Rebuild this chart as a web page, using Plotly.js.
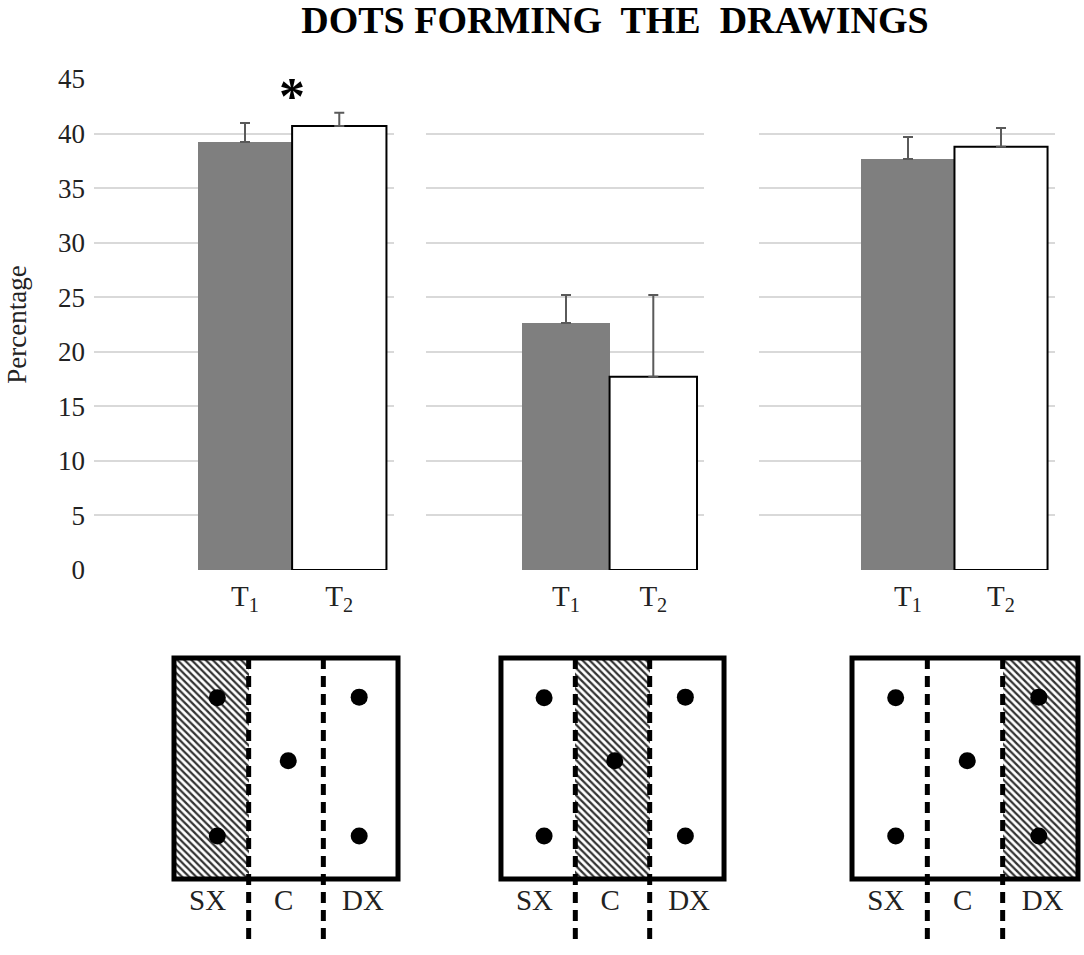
<!DOCTYPE html>
<html>
<head>
<meta charset="utf-8">
<script src="https://cdn.plot.ly/plotly-3.0.1.min.js"></script>
<style>
  html, body { margin: 0; padding: 0; background: #fff; }
  #chart { width: 1084px; height: 955px; }
</style>
</head>
<body>
<div id="chart"></div>
<script>
// Bar data: one panel per target zone, T1 vs T2
const timeLabels = ["T<sub>1</sub>", "T<sub>2</sub>"];
const t1Mean = [39.2, 22.6, 37.7];
const t1Err = [1.8, 2.6, 2.0];
const t2Mean = [40.7, 17.7, 38.8];
const t2Err = [1.2, 7.5, 1.7];
const yTicks = [0, 5, 10, 15, 20, 25, 30, 35, 40, 45];

// Drawing sketches under the bars
const zoneLabels = ["SX", "C", "DX"];
const hatchedZone = [0, 1, 2];          // which zone is shaded in each sketch
const zoneDividers = [1, 2];
const dotX = [0.58, 0.58, 1.53, 2.48, 2.48];
const dotY = [0.82, 0.195, 0.535, 0.823, 0.195];
const labelX = [0.45, 1.47, 2.53];

const W = 1084, H = 955;
const serif = "Liberation Serif, Times New Roman, serif";

// pixel layout of panels (left, right) in page px
const barPanels = [[94, 394], [426, 704], [759, 1055]];
const sketchPanels = [[171, 401], [498, 727], [849, 1081]];

const traces = [];
const layout = {
  width: W,
  height: H,
  margin: { t: 0, r: 0, b: 0, l: 0 },
  paper_bgcolor: "#ffffff",
  plot_bgcolor: "rgba(0,0,0,0)",
  showlegend: false,
  bargap: 0,
  title: {
    text: "<b>DOTS FORMING  THE  DRAWINGS</b>",
    font: { family: serif, size: 38, color: "#000" },
    x: 615 / W, xanchor: "center",
    y: 1 - 20 / H, yanchor: "middle"
  },
  yaxis: {
    domain: [1 - 570 / H, 1 - 79 / H],
    range: [0, 45],
    tickvals: yTicks,
    showgrid: true,
    gridcolor: "#d9d9d9",
    gridwidth: 2,
    zeroline: false,
    showline: false,
    ticks: "",
    ticklabelstandoff: 8,
    automargin: false,
    tickfont: { family: serif, size: 27, color: "#222" },
    title: { text: "Percentage", font: { family: serif, size: 27, color: "#222" }, standoff: 23 }
  },
  shapes: [],
  annotations: [
    {
      text: "<b>*</b>", xref: "x", yref: "y", x: 0.5, y: 43.4,
      showarrow: false, font: { family: serif, size: 52, color: "#000" },
      xanchor: "center", yanchor: "middle"
    }
  ]
};

barPanels.forEach((p, i) => {
  const n = i === 0 ? "" : String(i + 1);
  const xa = "x" + n;
  traces.push({
    type: "bar", x: [timeLabels[0]], y: [t1Mean[i]], xaxis: xa, yaxis: "y",
    marker: { color: "#7f7f7f", line: { width: 0 } },
    error_y: { type: "data", array: [t1Err[i]], symmetric: false, arrayminus: [0],
               color: "#5a5a5a", thickness: 2, width: 5 },
    hoverinfo: "y"
  });
  traces.push({
    type: "bar", x: [timeLabels[1]], y: [t2Mean[i]], xaxis: xa, yaxis: "y",
    marker: { color: "#ffffff", line: { width: 2, color: "#000" } },
    error_y: { type: "data", array: [t2Err[i]], symmetric: false, arrayminus: [0],
               color: "#5a5a5a", thickness: 2, width: 5 },
    hoverinfo: "y"
  });
  layout["xaxis" + n] = {
    domain: [p[0] / W, p[1] / W],
    anchor: "y",
    type: "category",
    categoryorder: "array",
    categoryarray: timeLabels,
    range: [-1.6, 1.58],
    showgrid: false, zeroline: false, showline: false, ticks: "",
    ticklabelstandoff: 6,
    tickfont: { family: serif, size: 29, color: "#222" }
  };
});

// sketches: box, hatched zone, dashed dividers, dots, labels
const sketchDomainY = [1 - 947.5 / H, 1 - 653.6 / H];
sketchPanels.forEach((p, i) => {
  const n = String(i + 4);
  const xa = "x" + n, ya = "y" + n;
  layout["xaxis" + n] = { domain: [p[0] / W, p[1] / W], anchor: ya, range: [-0.04, 3.04], visible: false };
  layout["yaxis" + n] = { domain: sketchDomainY, anchor: xa, range: [-0.31, 1.02], visible: false };

  traces.push({
    type: "bar", x: [hatchedZone[i] + 0.5], y: [1], width: [1], base: 0,
    xaxis: xa, yaxis: ya, hoverinfo: "skip",
    marker: { color: "#ffffff", line: { width: 0 },
              pattern: { shape: "\\", fgcolor: "#333", bgcolor: "#ffffff", size: 5, solidity: 0.45 } }
  });

  const dx = [], dy = [];
  zoneDividers.forEach(d => { dx.push(d, d, null); dy.push(1, -0.3, null); });
  traces.push({
    type: "scatter", mode: "lines", x: dx, y: dy, xaxis: xa, yaxis: ya,
    line: { color: "#000", width: 5, dash: "11px,7px" }, hoverinfo: "skip", cliponaxis: false
  });

  layout.shapes.push({
    type: "rect", xref: xa, yref: ya, x0: 0, x1: 3, y0: 0, y1: 1,
    line: { color: "#000", width: 5 }, layer: "above"
  });

  traces.push({
    type: "scatter", mode: "markers", x: dotX, y: dotY, xaxis: xa, yaxis: ya,
    marker: { color: "#000", size: 17, symbol: "circle" }, hoverinfo: "skip"
  });

  traces.push({
    type: "scatter", mode: "text", x: labelX, y: zoneLabels.map(() => -0.107),
    text: zoneLabels, textposition: "middle center", xaxis: xa, yaxis: ya,
    textfont: { family: serif, size: 29, color: "#222" }, hoverinfo: "skip", cliponaxis: false
  });
});

Plotly.newPlot("chart", traces, layout, { displayModeBar: false, staticPlot: true });
</script>
</body>
</html>
